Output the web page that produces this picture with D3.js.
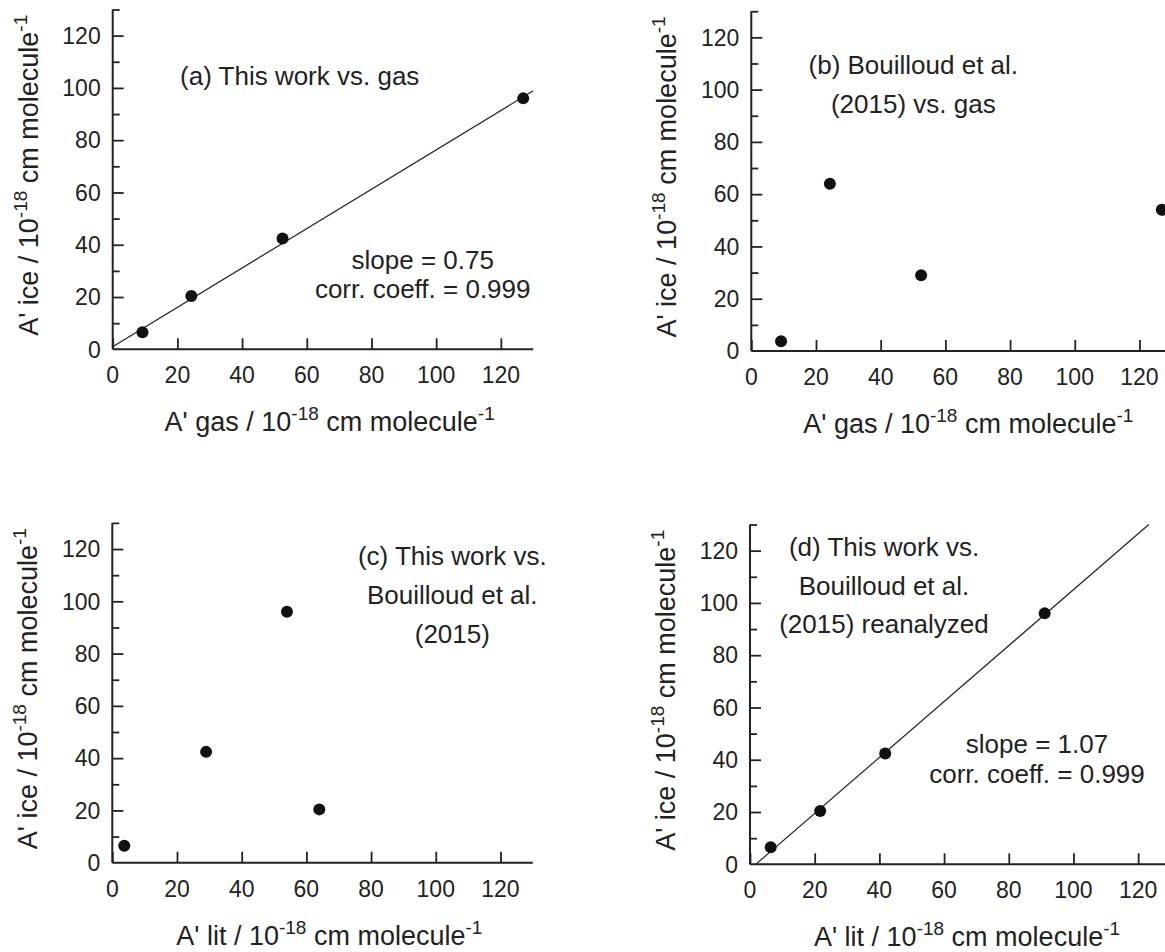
<!DOCTYPE html>
<html>
<head>
<meta charset="utf-8">
<script src="https://cdn.jsdelivr.net/npm/d3@7"></script>
<style>
  html, body { margin: 0; padding: 0; background: #ffffff; }
  svg { display: block; font-family: "Liberation Sans", Arial, Helvetica, sans-serif; }
</style>
</head>
<body>
<svg id="chart" width="1165" height="952"></svg>
<script>
// ---- data (values in 10^-18 cm molecule^-1) ----
const molecules = ["m1", "m2", "m3", "m4"];
const aIce = [6.5, 20.4, 42.4, 96.0];            // this work, ice
const aGas = [9.2, 24.3, 52.5, 126.9];           // gas phase
const aLit = [3.7, 64.0, 29.0, 54.0];            // Bouilloud et al. (2015)
const aLitReanalyzed = [6.4, 21.7, 41.8, 91.1];  // Bouilloud et al. (2015) reanalyzed
const fitA = { slope: 0.753, intercept: 1.0 };
const fitD = { slope: 1.07, intercept: -1.93 };
const axisTicks = [0, 20, 40, 60, 80, 100, 120];
const minorTicks = [10, 30, 50, 70, 90, 110, 130];
const domainMax = 130;

const panels = [
  { ox: 112.7, oy: 349.3, xs: aGas, ys: aIce, fit: fitA, xlab: "A' gas",
    title: ["(a) This work vs. gas"], tx: 187, ty: [-264],
    fitText: ["slope = 0.75", "corr. coeff. = 0.999"], fx: 310, fy: [-80, -51] },
  { ox: 751.3, oy: 351, xs: aGas, ys: aLit, fit: null, xlab: "A' gas",
    title: ["(b) Bouilloud et al.", "(2015) vs. gas"], tx: 162, ty: [-277, -238] },
  { ox: 112.3, oy: 862.7, xs: aLit, ys: aIce, fit: null, xlab: "A' lit",
    title: ["(c) This work vs.", "Bouilloud et al.", "(2015)"], tx: 340, ty: [-298, -259, -220] },
  { ox: 750, oy: 864.3, xs: aLitReanalyzed, ys: aIce, fit: fitD, xlab: "A' lit",
    title: ["(d) This work vs.", "Bouilloud et al.", "(2015) reanalyzed"], tx: 134, ty: [-308, -269, -231],
    fitText: ["slope = 1.07", "corr. coeff. = 0.999"], fx: 287, fy: [-111, -81] }
];

const W = 420.5, H = 339.8;
const ink = "#222";
const svg = d3.select("#chart");

function axisTitle(sel, label) {
  sel.append("tspan").text(label + " / 10");
  sel.append("tspan").attr("font-size", 19).attr("dy", -11).text("-18");
  sel.append("tspan").attr("dy", 11).text(" cm molecule");
  sel.append("tspan").attr("font-size", 19).attr("dy", -11).text("-1");
}

panels.forEach(p => {
  const x = d3.scaleLinear().domain([0, domainMax]).range([p.ox, p.ox + W]);
  const y = d3.scaleLinear().domain([0, domainMax]).range([p.oy, p.oy - H]);
  const g = svg.append("g");

  // x axis (ticks pointing inward/up)
  const xAxis = d3.axisTop(x).tickValues(axisTicks).tickSize(11).tickFormat("");
  const gx = g.append("g").attr("transform", `translate(0,${p.oy})`).call(xAxis);
  gx.select(".domain").attr("d", `M${p.ox},0H${p.ox + W}`);
  g.append("g").selectAll("text").data(axisTicks).join("text")
    .attr("x", d => x(d)).attr("y", p.oy + 34)
    .attr("text-anchor", "middle").attr("font-size", 23).attr("fill", ink)
    .text(d => d);

  // y axis major + minor ticks (inward/right)
  const yAxis = d3.axisRight(y).tickValues(axisTicks.slice(1)).tickSize(11).tickFormat("");
  const gy = g.append("g").attr("transform", `translate(${p.ox},0)`).call(yAxis);
  gy.select(".domain").attr("d", `M0,${p.oy}V${p.oy - H}`);
  const yMinor = d3.axisRight(y).tickValues(minorTicks).tickSize(7).tickFormat("");
  const gym = g.append("g").attr("transform", `translate(${p.ox},0)`).call(yMinor);
  gym.select(".domain").remove();
  g.selectAll(".domain").attr("stroke", ink).attr("stroke-width", 2);
  g.selectAll(".tick line").attr("stroke", ink).attr("stroke-width", 1.8);

  g.append("g").selectAll("text").data(axisTicks).join("text")
    .attr("x", p.ox - 12).attr("y", d => y(d)).attr("dy", "0.36em")
    .attr("text-anchor", "end").attr("font-size", 23).attr("fill", ink)
    .text(d => d);

  // axis titles
  const xt = g.append("text").attr("x", p.ox + 217).attr("y", p.oy + 82)
    .attr("text-anchor", "middle").attr("font-size", 27).attr("fill", ink);
  axisTitle(xt, p.xlab);
  const yt = g.append("text")
    .attr("transform", `translate(${p.ox - 75},${p.oy - 174}) rotate(-90)`)
    .attr("text-anchor", "middle").attr("font-size", 27).attr("fill", ink);
  axisTitle(yt, "A' ice");

  // fit line
  if (p.fit) {
    const f = p.fit;
    const x0 = Math.max(0, (0 - f.intercept) / f.slope);
    const x1 = Math.min(domainMax, (domainMax - f.intercept) / f.slope);
    const pts = [x0, x1].map(v => [v, f.intercept + f.slope * v]);
    g.append("path")
      .attr("d", d3.line().x(d => x(d[0])).y(d => y(d[1]))(pts))
      .attr("stroke", ink).attr("stroke-width", 1.2).attr("fill", "none");
  }

  // points
  g.append("g").selectAll("circle").data(molecules.map((m, i) => [p.xs[i], p.ys[i]]))
    .join("circle")
    .attr("cx", d => x(d[0])).attr("cy", d => y(d[1])).attr("r", 6)
    .attr("fill", "#111");

  // panel annotations
  p.title.forEach((t, i) => {
    g.append("text").attr("x", p.ox + p.tx).attr("y", p.oy + p.ty[i])
      .attr("text-anchor", "middle").attr("font-size", 26).attr("fill", ink).text(t);
  });
  if (p.fitText) {
    p.fitText.forEach((t, i) => {
      g.append("text").attr("x", p.ox + p.fx).attr("y", p.oy + p.fy[i])
        .attr("text-anchor", "middle").attr("font-size", 26).attr("fill", ink).text(t);
    });
  }
});
</script>
</body>
</html>
